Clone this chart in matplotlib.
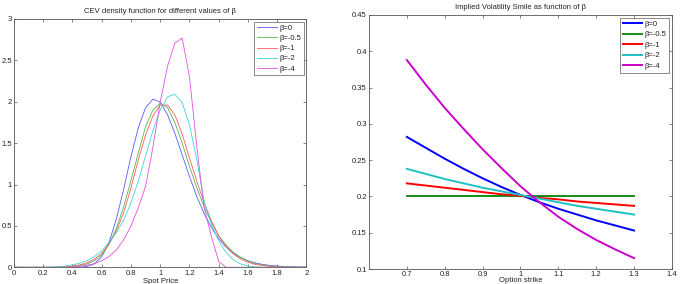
import matplotlib
matplotlib.use('Agg')
import matplotlib.pyplot as plt
import numpy as np

plt.rcParams['font.family'] = ['Liberation Sans', 'DejaVu Sans']

# ---- left panel: CEV density on a 0.05 grid ----
spot = [0.00, 0.05, 0.10, 0.15, 0.20, 0.25, 0.30, 0.35, 0.40, 0.45,
        0.50, 0.55, 0.60, 0.65, 0.70, 0.75, 0.80, 0.85, 0.90, 0.95,
        1.00, 1.05, 1.10, 1.15, 1.20, 1.25, 1.30, 1.35, 1.40, 1.45,
        1.50, 1.55, 1.60, 1.65, 1.70, 1.75, 1.80, 1.85, 1.90, 1.95, 2.00]

dens_b0 = [0, 0, 0, 0, 0, 0, 0, 0, 0.0001, 0.0015,
           0.010, 0.042, 0.127, 0.302, 0.581, 0.945, 1.338, 1.687, 1.929, 2.032,
           1.995, 1.844, 1.619, 1.359, 1.097, 0.856, 0.649, 0.479, 0.346, 0.245,
           0.170, 0.117, 0.079, 0.053, 0.035, 0.023, 0.015, 0.0095, 0.006, 0.0038, 0.0024]
dens_b05 = [0, 0, 0, 0, 0, 0, 0.001, 0.003, 0.008, 0.020,
            0.040, 0.080, 0.150, 0.280, 0.470, 0.730, 1.050, 1.380, 1.700, 1.900,
            1.980, 1.930, 1.750, 1.500, 1.220, 0.960, 0.730, 0.540, 0.380, 0.270,
            0.180, 0.120, 0.075, 0.045, 0.028, 0.016, 0.009, 0.005, 0.003, 0.001, 0]
dens_b1 = [0, 0, 0, 0, 0, 0, 0.002, 0.007, 0.015, 0.030,
           0.055, 0.100, 0.170, 0.280, 0.440, 0.660, 0.960, 1.300, 1.600, 1.830,
           1.960, 1.960, 1.840, 1.610, 1.320, 1.040, 0.780, 0.560, 0.380, 0.250,
           0.160, 0.100, 0.060, 0.035, 0.020, 0.010, 0.005, 0.002, 0, 0, 0]
dens_b2 = [0, 0, 0, 0, 0, 0.002, 0.006, 0.015, 0.030, 0.050,
           0.080, 0.130, 0.200, 0.300, 0.420, 0.570, 0.780, 1.040, 1.350, 1.650,
           1.900, 2.060, 2.090, 1.990, 1.720, 1.300, 0.800, 0.520, 0.320, 0.180,
           0.090, 0.040, 0.015, 0.005, 0, 0, 0, 0, 0, 0, 0]
dens_b4 = [0, 0, 0, 0, 0, 0, 0, 0, 0.005, 0.012,
           0.025, 0.045, 0.080, 0.130, 0.210, 0.330, 0.500, 0.720, 0.980, 1.450,
           2.000, 2.430, 2.710, 2.770, 2.300, 1.460, 0.720, 0.370, 0.070, 0,
           0, 0, 0, 0, 0, 0, 0, 0, 0, 0, 0]

# ---- right panel: implied vol smile ----
strike = [0.70, 0.75, 0.80, 0.85, 0.90, 0.95, 1.00, 1.05, 1.10, 1.15, 1.20, 1.25, 1.30]
vol_b0 = [0.282, 0.267, 0.252, 0.238, 0.225, 0.213, 0.202, 0.192, 0.183, 0.175, 0.167, 0.160, 0.153]
vol_b05 = [0.200] * 13
vol_b1 = [0.218, 0.215, 0.212, 0.209, 0.206, 0.203, 0.201, 0.198, 0.196, 0.193, 0.191, 0.189, 0.187]
vol_b2 = [0.238, 0.231, 0.224, 0.218, 0.212, 0.207, 0.202, 0.197, 0.192, 0.187, 0.183, 0.179, 0.175]
vol_b4 = [0.388, 0.354, 0.322, 0.293, 0.265, 0.239, 0.214, 0.192, 0.172, 0.155, 0.140, 0.127, 0.115]

labels = ['\u03b2=0', '\u03b2=-0.5', '\u03b2=-1', '\u03b2=-2', '\u03b2=-4']
left_colors = ['#5a5aff', '#50b850', '#ff5a5a', '#40d4d4', '#e050e0']
right_colors = ['#0000ff', '#168c16', '#ff0000', '#20c0c0', '#cc00cc']

txt = '#222222'
edge = '#555555'
fs = 5.5


def style_axes(ax):
    for s in ax.spines.values():
        s.set_color(edge)
        s.set_linewidth(0.6)
    ax.tick_params(direction='in', length=2.5, width=0.5, colors=edge,
                   labelcolor=txt, labelsize=fs, top=True, right=True, pad=2)
    ax.tick_params(axis='y', pad=1.5)


def fmt(v):
    s = ('%.2f' % v).rstrip('0').rstrip('.')
    return s


def add_legend(ax, spacing):
    lg = ax.legend(loc='upper right', fontsize=fs, frameon=True, fancybox=False,
                   handlelength=2.6, handletextpad=0.3, labelspacing=spacing,
                   borderpad=0.35, borderaxespad=0.35)
    lg.get_frame().set_edgecolor(edge)
    lg.get_frame().set_linewidth(0.6)
    for t in lg.get_texts():
        t.set_color(txt)


fig = plt.figure(figsize=(6.82, 2.84), dpi=100)

ax1 = fig.add_axes([0.0205, 0.0588, 0.4289, 0.8743])
for ys, c, lab in zip([dens_b0, dens_b05, dens_b1, dens_b2, dens_b4], left_colors, labels):
    ax1.plot(spot, ys, color=c, lw=0.6, label=lab)
ax1.set_xlim(0, 2)
ax1.set_ylim(0, 3)
xt = np.arange(0, 2.01, 0.2)
ax1.set_xticks(xt)
ax1.set_xticklabels([fmt(v) for v in xt])
yt = np.arange(0, 3.01, 0.5)
ax1.set_yticks(yt)
ax1.set_yticklabels([fmt(v) for v in yt])
style_axes(ax1)
ax1.set_xlabel('Spot Price', fontsize=fs, color=txt, labelpad=1)
ax1.set_title('CEV density function for different values of \u03b2', fontsize=fs,
              color=txt, pad=4)
add_legend(ax1, 0.38)

ax2 = fig.add_axes([0.541, 0.0528, 0.4443, 0.8944])
for ys, c, lab in zip([vol_b0, vol_b05, vol_b1, vol_b2, vol_b4], right_colors, labels):
    ax2.plot(strike, ys, color=c, lw=1.4, label=lab)
ax2.set_xlim(0.6, 1.4)
ax2.set_ylim(0.1, 0.45)
xt2 = np.arange(0.7, 1.41, 0.1)
ax2.set_xticks(xt2)
ax2.set_xticklabels([fmt(v) for v in xt2])
yt2 = np.arange(0.1, 0.451, 0.05)
ax2.set_yticks(yt2)
ax2.set_yticklabels([fmt(v) for v in yt2])
style_axes(ax2)
ax2.tick_params(axis='x', pad=1.5)
ax2.set_xlabel('Option strike', fontsize=fs, color=txt, labelpad=-0.5)
ax2.set_title('Implied Volatility Smile as function of \u03b2', fontsize=fs,
              color=txt, pad=4)
add_legend(ax2, 0.42)

fig.savefig('out.png', dpi=100)
